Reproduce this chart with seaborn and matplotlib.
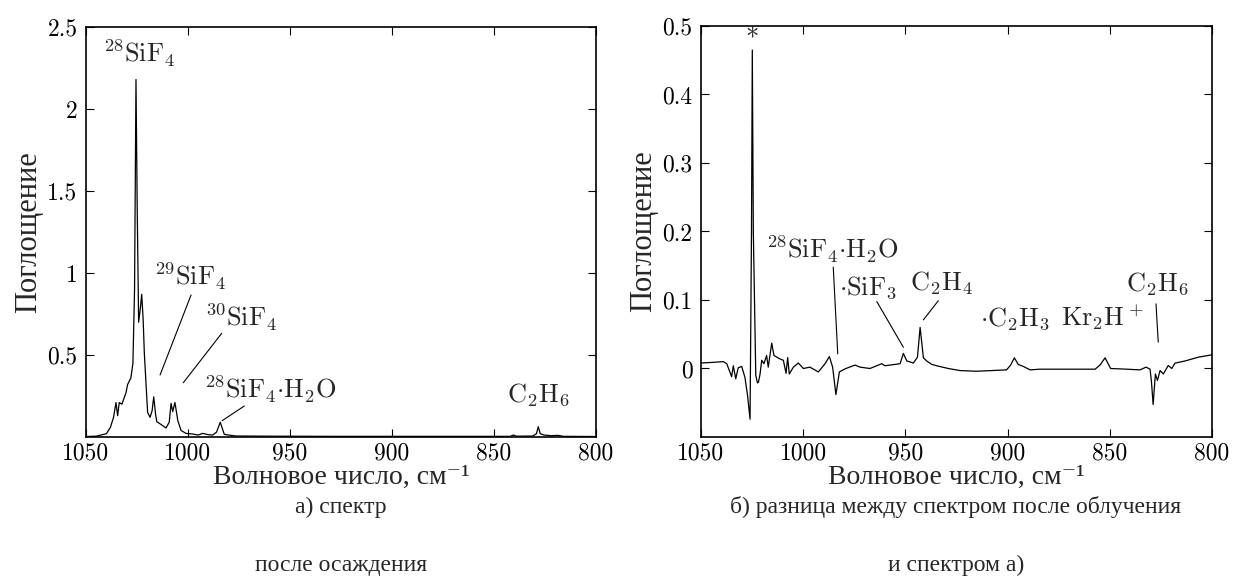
import numpy as np
import pandas as pd
import matplotlib

matplotlib.use("Agg")
import matplotlib.pyplot as plt
import seaborn as sns

sns.set_theme(style="ticks")
plt.rcParams["font.family"] = ["cmr10", "Liberation Serif", "DejaVu Serif"]
plt.rcParams["mathtext.fontset"] = "cm"
plt.rcParams["axes.unicode_minus"] = False

# а) спектр после осаждения (волновое число, поглощение)
wn_a = [1050, 1045, 1040, 1038, 1036.5, 1035.3, 1034.5, 1033.7, 1032.4, 1030.4,
        1029.6, 1028, 1027, 1026.2, 1025.5, 1024.9, 1024.2, 1023.4, 1022.7, 1022,
        1021.4, 1019.8, 1018.6, 1017.6, 1016.8, 1015.9, 1015.3, 1014, 1012.5, 1010.8,
        1009.2, 1008.3, 1007.5, 1006.4, 1005, 1003.4, 1001, 997.7, 995, 992.8,
        990, 987.9, 986, 984.2, 982.2, 979, 976.5, 960, 930, 900,
        870, 850, 842, 840.5, 839, 831, 829.2, 828.3, 827.3, 825.5,
        822, 818.6, 816, 800]
abs_a = [0.003, 0.005, 0.02, 0.06, 0.12, 0.21, 0.13, 0.21, 0.20, 0.27,
         0.32, 0.36, 0.45, 0.9, 2.18, 1.4, 0.70, 0.78, 0.87, 0.72,
         0.51, 0.15, 0.12, 0.16, 0.245, 0.14, 0.093, 0.083, 0.07, 0.055,
         0.09, 0.205, 0.155, 0.21, 0.10, 0.04, 0.022, 0.018, 0.012, 0.022,
         0.014, 0.012, 0.03, 0.09, 0.016, 0.01, 0.006, 0.005, 0.004, 0.004,
         0.004, 0.004, 0.004, 0.012, 0.005, 0.006, 0.02, 0.063, 0.02, 0.012,
         0.008, 0.01, 0.004, 0.003]

# б) разница между спектрами
wn_b = [1050, 1044, 1039.1, 1037.4, 1035, 1034.2, 1033, 1031.8, 1030.1, 1028.5,
        1027.2, 1026, 1025.3, 1024.9, 1024.4, 1023.2, 1022.4, 1021.9, 1021.1, 1020.3,
        1019.2, 1017.9, 1017.1, 1015.4, 1014.3, 1011.4, 1009.7, 1008.4, 1007.6, 1006.8,
        1004.8, 1002.4, 999.9, 996.7, 992.6, 989.3, 987.2, 985.6, 984, 982.3,
        979.5, 974.7, 972.2, 967.3, 961.6, 960, 952.6, 951, 949.3, 946.1,
        944.1, 942.8, 941.2, 939.6, 937.1, 934.7, 929, 923.3, 915.2, 900.5,
        898.5, 896.7, 894.8, 892.3, 889, 884.2, 857.2, 854.8, 852.3, 849.6,
        841.7, 835.2, 832.3, 830.3, 829.6, 828.8, 827.7, 826.7, 825.4, 823.8,
        821.4, 819.7, 818.1, 813.2, 806.7, 800]
abs_b = [0.008, 0.009, 0.010, 0.007, -0.012, 0.004, -0.015, 0.001, 0.003, -0.013,
         -0.04, -0.074, 0.2, 0.465, 0.2, -0.01, -0.021, -0.02, -0.008, 0.012,
         0.007, 0.019, 0.002, 0.037, 0.019, 0.014, 0.012, -0.007, 0.016, -0.008,
         0.002, 0.008, 0.0, 0.002, -0.005, 0.007, 0.0175, 0.002, -0.038, -0.005,
         -0.0005, 0.005, 0.002, 0.0, 0.007, 0.004, 0.007, 0.022, 0.011, 0.008,
         0.0165, 0.060, 0.0156, 0.011, 0.006, 0.004, 0.0, -0.003, -0.004, -0.002,
         0.005, 0.0156, 0.006, 0.003, -0.002, -0.001, -0.001, 0.005, 0.0156, 0.0,
         -0.001, -0.002, 0.002, -0.001, -0.02, -0.0526, -0.008, -0.0175, -0.003, -0.008,
         0.0044, 0.0, 0.0078, 0.011, 0.0165, 0.02]

xticks = [1050, 1000, 950, 900, 850, 800]
yticks_a = [0.5, 1, 1.5, 2, 2.5]
ylabels_a = ["0.5", "1", "1.5", "2", "2.5"]
yticks_b = [0, 0.1, 0.2, 0.3, 0.4, 0.5]
ylabels_b = ["0", "0.1", "0.2", "0.3", "0.4", "0.5"]

# подписи: текст, x, y (центр), и линия-выноска (x1, y1, x2, y2) или None
labels_a = [
    (r"$^{28}$SiF$_4$", 1024.0, 2.34, None),
    (r"$^{29}$SiF$_4$", 999.0, 0.98, (998.5, 0.866, 1013.7, 0.378)),
    (r"$^{30}$SiF$_4$", 974.0, 0.73, (983.5, 0.632, 1002.3, 0.331)),
    (r"$^{28}$SiF$_4$$\cdot$H$_2$O", 959.8, 0.29, (972.4, 0.189, 983.2, 0.10)),
    (r"C$_2$H$_6$", 828.4, 0.256, None),
]
labels_b = [
    (r"*", 1024.9, 0.481, None),
    (r"$^{28}$SiF$_4$$\cdot$H$_2$O", 985.9, 0.174, (985.3, 0.148, 983.1, 0.0214)),
    (r"$\cdot$SiF$_3$", 968.3, 0.118, (964.0, 0.0978, 951.0, 0.031)),
    (r"C$_2$H$_4$", 932.6, 0.124, (933.9, 0.099, 941.2, 0.071)),
    (r"$\cdot$C$_2$H$_3$", 896.4, 0.073, None),
    (r"Kr$_2$H$^+$", 853.8, 0.0745, None),
    (r"C$_2$H$_6$", 826.9, 0.124, (827.4, 0.0944, 826.3, 0.0384)),
]

df_a = pd.DataFrame({"wn": wn_a, "abs": abs_a})
df_b = pd.DataFrame({"wn": wn_b, "abs": abs_b})

fig = plt.figure(figsize=(12.34, 5.83), dpi=100)
ax_a = fig.add_axes([86 / 1234, 1 - 437 / 583, 510 / 1234, 410 / 583])
ax_b = fig.add_axes([701 / 1234, 1 - 437 / 583, 511 / 1234, 411 / 583])

fs_tick = 17
fs_note = 19
fs_text = 17
cyr = ["Liberation Serif", "DejaVu Serif"]


def draw(ax, df, ylim, yticks, ylabels, labels):
    sns.lineplot(data=df, x="wn", y="abs", ax=ax, color="black", linewidth=0.9)
    ax.set_xlim(1050, 800)
    ax.set_ylim(*ylim)
    ax.set_xticks(xticks)
    ax.set_xticklabels([str(t) for t in xticks])
    ax.set_yticks(yticks)
    ax.set_yticklabels(ylabels)
    ax.tick_params(direction="in", length=6, width=0.8, top=True, right=True,
                   labelsize=fs_tick, colors="black", pad=6)
    ax.tick_params(axis="x", pad=4)
    for s in ax.spines.values():
        s.set_linewidth(1.2)
        s.set_color("black")
    ax.set_xlabel("Волновое число, см⁻¹", fontsize=20, labelpad=0, family=cyr)
    ax.set_ylabel("Поглощение", fontsize=22, labelpad=3, family=cyr)
    for text, x, y, line in labels:
        ax.text(x, y, text, ha="center", va="center", fontsize=fs_note)
        if line is not None:
            ax.plot([line[0], line[2]], [line[1], line[3]], color="black", linewidth=0.8)


draw(ax_a, df_a, (0, 2.5), yticks_a, ylabels_a, labels_a)
draw(ax_b, df_b, (-0.1, 0.5), yticks_b, ylabels_b, labels_b)

fig.text(341 / 1234, 1 - 507 / 583, "а) спектр", ha="center", va="center",
         fontsize=fs_text, family=cyr)
fig.text(341 / 1234, 1 - 565 / 583, "после осаждения", ha="center", va="center",
         fontsize=fs_text, family=cyr)
fig.text(956 / 1234, 1 - 507 / 583, "б) разница между спектром после облучения",
         ha="center", va="center", fontsize=fs_text, family=cyr)
fig.text(956 / 1234, 1 - 565 / 583, "и спектром а)", ha="center", va="center",
         fontsize=fs_text, family=cyr)

fig.savefig("out.png", dpi=100, facecolor="white")
